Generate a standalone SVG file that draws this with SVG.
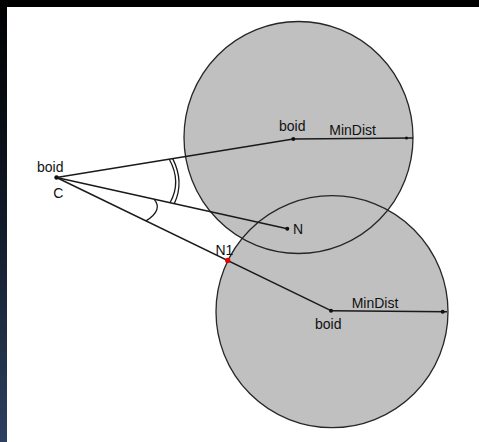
<svg xmlns="http://www.w3.org/2000/svg" width="479" height="442" viewBox="0 0 479 442">
  <defs>
    <linearGradient id="edgeFade" x1="0" y1="0" x2="0" y2="1">
      <stop offset="0" stop-color="#000000"/>
      <stop offset="0.5" stop-color="#111a28"/>
      <stop offset="1" stop-color="#2e4060"/>
    </linearGradient>
    <style>
      .zone { fill: #c0c0c0; }
      .rim { fill: none; stroke: #262626; stroke-width: 1.3; }
      .ray { stroke: #1a1a1a; stroke-width: 1.5; fill: none; }
      .arc { stroke: #1a1a1a; stroke-width: 1.3; fill: none; }
      .pt { fill: #111111; }
      .lbl { font-family: "Liberation Sans", Arial, sans-serif; font-size: 14px; fill: #111111; }
    </style>
  </defs>

  <!-- frame -->
  <rect x="0" y="0" width="479" height="442" fill="#ffffff"/>
  <rect x="0" y="0" width="7" height="442" fill="url(#edgeFade)"/>
  <rect x="0" y="0" width="479" height="7" fill="#000000"/>

  <!-- MinDist zones around the two boids -->
  <g id="zone-upper">
    <ellipse class="zone" cx="298.5" cy="137.5" rx="114.5" ry="116"/>
  </g>
  <g id="zone-lower">
    <circle class="zone" cx="332" cy="311.7" r="116"/>
  </g>
  <ellipse class="rim" cx="298.5" cy="137.5" rx="114.5" ry="116"/>
  <circle class="rim" cx="332" cy="311.7" r="116"/>

  <!-- sight lines, radii and angle marks -->
  <g id="connectors">
    <line class="ray" x1="56.5" y1="177.5" x2="293.3" y2="139"/>
    <line class="ray" x1="56.5" y1="177.5" x2="287.3" y2="228.7"/>
    <line class="ray" x1="56.5" y1="177.5" x2="331" y2="310.7"/>
    <line class="ray" x1="293.3" y1="139" x2="413" y2="138"/>
    <line class="ray" x1="331" y1="310.7" x2="447" y2="311.7"/>
    <path class="arc" d="M169.3,159.2 Q181.75,182 170,202.7"/>
    <path class="arc" d="M172.7,158.6 Q184.5,181.9 174.3,203.6"/>
    <path class="arc" d="M154,199.1 Q163.4,210 146,220.9"/>
  </g>

  <g id="boid-c">
    <circle class="pt" cx="56.5" cy="177.5" r="2.2"/>
    <text class="lbl" x="37" y="172.3">boid</text>
    <text class="lbl" x="53.3" y="197.5">C</text>
  </g>

  <g id="boid-upper">
    <circle class="pt" cx="293.3" cy="139" r="2"/>
    <circle class="pt" cx="406.5" cy="138" r="1.6"/>
    <text class="lbl" x="279" y="130.5">boid</text>
    <text class="lbl" x="329.3" y="135">MinDist</text>
  </g>

  <g id="point-n">
    <circle class="pt" cx="287.3" cy="228.7" r="2"/>
    <text class="lbl" x="293" y="233.5">N</text>
  </g>

  <g id="point-n1">
    <circle cx="227.7" cy="260.4" r="2.6" fill="#e60000"/>
    <text class="lbl" x="215.5" y="255">N1</text>
  </g>

  <g id="boid-lower">
    <circle class="pt" cx="331" cy="310.7" r="2"/>
    <circle class="pt" cx="442.7" cy="311.7" r="2"/>
    <text class="lbl" x="351.7" y="307.7">MinDist</text>
    <text class="lbl" x="315" y="328.5">boid</text>
  </g>
</svg>
